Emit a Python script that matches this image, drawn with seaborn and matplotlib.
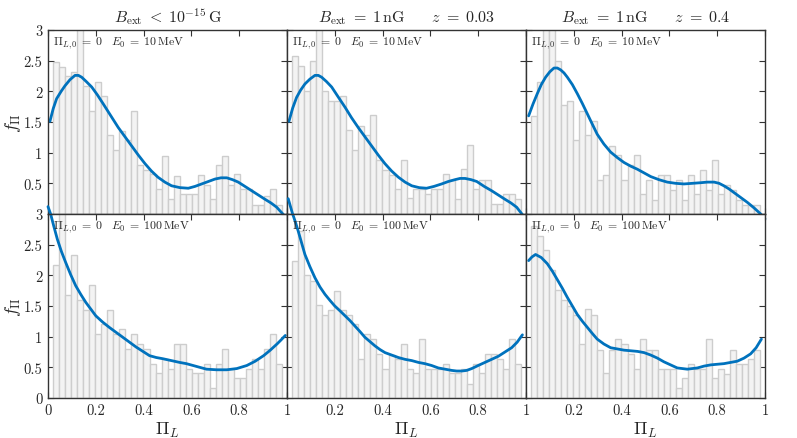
import numpy as np
import pandas as pd
import matplotlib
matplotlib.use('Agg')
import matplotlib.pyplot as plt
import seaborn as sns

# 38 histogram bins between ~0.02 and ~0.98
n_bins = 38
bin_range = (0.021, 0.980)
bin_edges = np.linspace(bin_range[0], bin_range[1], n_bins + 1)
bin_centers = 0.5 * (bin_edges[:-1] + bin_edges[1:])

# top row: E0 = 10 MeV
tl_hist = [2.48, 2.40, 2.25, 2.32, 3.20, 2.08, 1.68, 2.15, 1.92, 1.28, 1.04, 1.35, 1.20,
           1.68, 0.80, 0.72, 0.65, 0.40, 0.95, 0.25, 0.62, 0.32, 0.32, 0.32, 0.64, 0.48,
           0.25, 0.80, 0.95, 0.48, 0.65, 0.40, 0.40, 0.15, 0.15, 0.30, 0.40, 0.15]
tm_hist = [2.58, 2.42, 2.01, 2.50, 3.20, 2.01, 1.84, 1.84, 1.92, 1.37, 1.05, 1.44, 1.28,
           1.61, 0.88, 0.71, 0.63, 0.41, 0.88, 0.26, 0.41, 0.41, 0.33, 0.41, 0.41, 0.65,
           0.56, 0.24, 0.73, 1.13, 0.41, 0.56, 0.56, 0.16, 0.16, 0.33, 0.33, 0.24]
tr_hist = [1.60, 2.16, 3.05, 3.20, 2.50, 1.77, 1.84, 1.20, 1.68, 1.28, 1.52, 0.55, 0.64,
           1.11, 0.96, 0.55, 0.80, 0.96, 0.32, 0.55, 0.23, 0.64, 0.64, 0.39, 0.55, 0.23,
           0.64, 0.32, 0.72, 0.39, 0.88, 0.32, 0.48, 0.39, 0.23, 0.15, 0.15, 0.15]

# bottom row: E0 = 100 MeV
bl_hist = [2.17, 3.20, 1.68, 2.33, 1.60, 1.44, 1.84, 1.04, 1.21, 1.44, 1.04, 1.13, 0.80,
           1.04, 0.88, 0.80, 0.55, 0.40, 0.64, 0.47, 0.88, 0.88, 0.47, 0.40, 0.40, 0.55,
           0.16, 0.55, 0.80, 0.47, 0.32, 0.32, 0.47, 0.64, 0.47, 0.80, 1.04, 0.55]
bm_hist = [2.24, 2.72, 2.00, 1.90, 1.52, 1.35, 1.44, 1.75, 1.44, 1.35, 1.20, 0.63, 1.04,
           0.97, 0.71, 0.48, 0.70, 0.63, 0.88, 0.48, 0.40, 0.97, 0.48, 0.48, 0.48, 0.55,
           0.40, 0.40, 0.48, 0.23, 0.55, 0.40, 0.71, 0.71, 0.63, 0.48, 0.97, 0.55]
br_hist = [2.80, 2.64, 2.41, 2.08, 1.76, 1.59, 1.50, 1.36, 0.88, 1.45, 1.35, 0.79, 0.40,
           0.79, 0.96, 0.88, 0.71, 0.47, 0.96, 0.79, 0.79, 0.47, 0.47, 0.47, 0.16, 0.32,
           0.55, 0.47, 0.47, 0.96, 0.32, 0.47, 0.39, 0.79, 0.55, 0.55, 0.63, 0.79]

# smoothed density curves
tl_cx = [0.008, 0.022, 0.036, 0.055, 0.071, 0.092, 0.113, 0.127, 0.141, 0.160, 0.183,
         0.207, 0.232, 0.263, 0.294, 0.322, 0.350, 0.378, 0.406, 0.433, 0.460, 0.489,
         0.517, 0.552, 0.587, 0.615, 0.643, 0.671, 0.699, 0.724, 0.748, 0.772, 0.796,
         0.824, 0.852, 0.880, 0.908, 0.933, 0.957, 0.985, 1.0]
tl_cy = [1.51, 1.72, 1.88, 2.00, 2.09, 2.19, 2.26, 2.26, 2.23, 2.16, 2.07,
         1.94, 1.79, 1.60, 1.41, 1.26, 1.11, 0.96, 0.82, 0.70, 0.60, 0.52,
         0.46, 0.43, 0.42, 0.45, 0.49, 0.53, 0.57, 0.59, 0.59, 0.56, 0.52,
         0.45, 0.38, 0.31, 0.24, 0.18, 0.11, -0.01, -0.10]
tm_cx = [0.008, 0.024, 0.040, 0.057, 0.075, 0.096, 0.117, 0.131, 0.145, 0.165, 0.187,
         0.214, 0.243, 0.270, 0.298, 0.326, 0.354, 0.382, 0.410, 0.438, 0.466, 0.494,
         0.522, 0.553, 0.584, 0.615, 0.647, 0.675, 0.703, 0.724, 0.745, 0.770, 0.794,
         0.825, 0.856, 0.884, 0.912, 0.937, 0.961, 0.985, 1.0]
tm_cy = [1.51, 1.73, 1.90, 2.02, 2.12, 2.20, 2.26, 2.26, 2.23, 2.16, 2.07,
         1.91, 1.74, 1.57, 1.41, 1.26, 1.11, 0.96, 0.82, 0.70, 0.60, 0.52,
         0.46, 0.43, 0.42, 0.45, 0.49, 0.53, 0.56, 0.58, 0.58, 0.56, 0.53,
         0.45, 0.38, 0.31, 0.24, 0.18, 0.11, -0.01, -0.10]
tr_cx = [0.011, 0.029, 0.047, 0.064, 0.082, 0.100, 0.117, 0.131, 0.145, 0.159, 0.173,
         0.194, 0.215, 0.236, 0.257, 0.278, 0.298, 0.326, 0.354, 0.382, 0.410, 0.438,
         0.466, 0.494, 0.522, 0.556, 0.591, 0.626, 0.661, 0.696, 0.731, 0.759, 0.787,
         0.808, 0.828, 0.849, 0.870, 0.898, 0.926, 0.954, 0.982, 1.0]
tr_cy = [1.60, 1.79, 1.96, 2.11, 2.23, 2.32, 2.38, 2.38, 2.35, 2.30, 2.23,
         2.11, 1.96, 1.80, 1.63, 1.46, 1.30, 1.14, 1.01, 0.92, 0.84, 0.78,
         0.73, 0.67, 0.61, 0.56, 0.52, 0.50, 0.49, 0.50, 0.51, 0.52, 0.52,
         0.50, 0.46, 0.41, 0.35, 0.27, 0.19, 0.10, 0.0, -0.08]
bl_cx = [0.0, 0.011, 0.025, 0.039, 0.056, 0.074, 0.095, 0.116, 0.137, 0.158, 0.179,
         0.200, 0.228, 0.257, 0.285, 0.313, 0.341, 0.369, 0.397, 0.425, 0.453, 0.481,
         0.516, 0.551, 0.579, 0.607, 0.635, 0.663, 0.705, 0.748, 0.790, 0.832, 0.867,
         0.902, 0.930, 0.958, 0.976, 0.993]
bl_cy = [3.12, 3.00, 2.79, 2.59, 2.39, 2.21, 2.01, 1.83, 1.69, 1.56, 1.45,
         1.34, 1.24, 1.15, 1.07, 0.99, 0.91, 0.83, 0.76, 0.69, 0.66, 0.64,
         0.61, 0.58, 0.56, 0.53, 0.50, 0.47, 0.46, 0.46, 0.48, 0.53, 0.60,
         0.69, 0.78, 0.88, 0.95, 1.02]
bm_cx = [0.005, 0.022, 0.035, 0.047, 0.061, 0.075, 0.096, 0.117, 0.138, 0.159, 0.180,
         0.200, 0.222, 0.243, 0.264, 0.285, 0.306, 0.326, 0.347, 0.368, 0.389, 0.410,
         0.438, 0.466, 0.494, 0.522, 0.550, 0.577, 0.605, 0.633, 0.661, 0.689, 0.710,
         0.731, 0.752, 0.773, 0.800, 0.828, 0.856, 0.884, 0.912, 0.940, 0.963, 0.985]
bm_cy = [3.25, 3.02, 2.87, 2.72, 2.53, 2.34, 2.14, 1.96, 1.81, 1.69, 1.59,
         1.50, 1.42, 1.34, 1.26, 1.17, 1.08, 0.99, 0.92, 0.85, 0.79, 0.74,
         0.70, 0.66, 0.63, 0.61, 0.58, 0.56, 0.53, 0.49, 0.47, 0.45, 0.44,
         0.44, 0.45, 0.48, 0.53, 0.58, 0.63, 0.68, 0.75, 0.82, 0.91, 1.03]
br_cx = [0.011, 0.025, 0.040, 0.064, 0.089, 0.110, 0.131, 0.152, 0.173, 0.194, 0.215,
         0.236, 0.257, 0.278, 0.298, 0.326, 0.354, 0.382, 0.410, 0.438, 0.466, 0.494,
         0.522, 0.550, 0.577, 0.605, 0.633, 0.654, 0.675, 0.696, 0.717, 0.745, 0.773,
         0.800, 0.828, 0.856, 0.884, 0.912, 0.940, 0.963, 0.985]
br_cy = [2.24, 2.30, 2.34, 2.29, 2.19, 2.07, 1.93, 1.79, 1.64, 1.50, 1.36,
         1.25, 1.15, 1.05, 0.96, 0.88, 0.82, 0.80, 0.78, 0.77, 0.76, 0.74,
         0.70, 0.65, 0.59, 0.54, 0.49, 0.48, 0.47, 0.48, 0.49, 0.52, 0.54,
         0.55, 0.56, 0.58, 0.60, 0.65, 0.72, 0.82, 0.96]

titles = [r'$B_{\rm ext}\;<\;10^{-15}\,{\rm G}$',
          r'$B_{\rm ext}\;=\;1\,{\rm nG}\qquad z\;=\;0.03$',
          r'$B_{\rm ext}\;=\;1\,{\rm nG}\qquad z\;=\;0.4$']
energies = [r'$E_0\;=\;10\,{\rm MeV}$', r'$E_0\;=\;100\,{\rm MeV}$']
xticks = [0, 0.2, 0.4, 0.6, 0.8, 1]
xtick_labels = ['0', '0.2', '0.4', '0.6', '0.8', '1']
yticks = [0, 0.5, 1, 1.5, 2, 2.5, 3]
ytick_labels = ['0', '0.5', '1', '1.5', '2', '2.5', '3']

hists = [[tl_hist, tm_hist, tr_hist], [bl_hist, bm_hist, br_hist]]
curves = [[(tl_cx, tl_cy), (tm_cx, tm_cy), (tr_cx, tr_cy)],
          [(bl_cx, bl_cy), (bm_cx, bm_cy), (br_cx, br_cy)]]

sns.set_style('ticks')
plt.rcParams['font.family'] = 'serif'
plt.rcParams['font.serif'] = ['cmr10', 'DejaVu Serif']
plt.rcParams['mathtext.fontset'] = 'cm'
plt.rcParams['axes.formatter.use_mathtext'] = True

fig = plt.figure(figsize=(7.97, 4.39), dpi=100)
left0, width = 48 / 797, 239 / 797
bottoms = [1 - 215 / 439, 1 - 399 / 439]
height = 184 / 439

for r in range(2):
    for c in range(3):
        ax = fig.add_axes([left0 + c * width, bottoms[r], width, height])
        df = pd.DataFrame({'pi_l': bin_centers, 'f': np.asarray(hists[r][c], float)})
        sns.histplot(data=df, x='pi_l', weights='f', bins=n_bins, binrange=bin_range,
                     ax=ax, facecolor='#f3f3f3', edgecolor='#cdcdcd',
                     linewidth=1.0, alpha=1)
        cx, cy = curves[r][c]
        sns.lineplot(x=cx, y=cy, ax=ax, color='#0072BD', linewidth=2.0,
                     clip_on=False, sort=False, zorder=5)
        ax.set_xlim(0, 1)
        ax.set_ylim(0, 3)
        ax.set_xticks(xticks)
        ax.set_yticks(yticks)
        ax.tick_params(direction='in', top=True, right=True, length=4,
                       width=0.8, color='#333333', labelsize=10.5, pad=4)
        for s in ax.spines.values():
            s.set_color('#333333')
            s.set_linewidth(1.0)
            s.set_zorder(6)

        xl = list(xtick_labels)
        if c > 0:
            xl[0] = ''
        if r == 0:
            xl = [''] * len(xl)
        ax.set_xticklabels(xl)
        yl = list(ytick_labels)
        if r == 0:
            yl[0] = ''
        if c > 0:
            yl = [''] * len(yl)
        ax.set_yticklabels(yl)

        ax.set_xlabel(r'$\Pi_L$' if r == 1 else '', fontsize=13, labelpad=2)
        ax.set_ylabel(r'$f_\Pi$' if c == 0 else '', fontsize=13)
        ax.yaxis.set_label_coords(-0.105, 0.5)
        if r == 0:
            ax.set_title(titles[c], fontsize=11.5, pad=6)
        ax.text(0.02, 0.935, r'$\Pi_{L,0}\;=\;0$', transform=ax.transAxes,
                fontsize=8.5, ha='left', va='center', zorder=7)
        ax.text(0.265, 0.935, energies[r], transform=ax.transAxes,
                fontsize=8.5, ha='left', va='center', zorder=7)

fig.savefig('out.png', dpi=100)
